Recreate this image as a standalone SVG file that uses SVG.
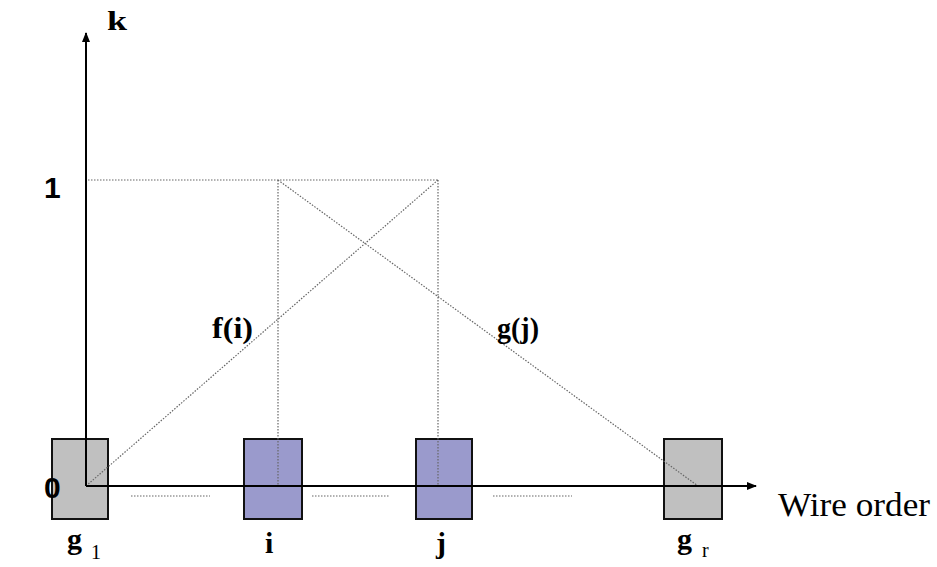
<svg xmlns="http://www.w3.org/2000/svg" width="937" height="567" viewBox="0 0 937 567">
<style>
.box{stroke:#111;stroke-width:2}
.gray{fill:#c0c0c0}
.blue{fill:#9a9acc}
.dot{stroke:#666;stroke-width:1.2;stroke-dasharray:1.5 1.5;fill:none}
.axis{stroke:#000;stroke-width:2;fill:none}
.serif{font-family:"Liberation Serif","Times New Roman",serif;font-weight:bold;fill:#000}
.reg{font-weight:normal}
.sans{font-family:"Liberation Sans",Arial,sans-serif;font-weight:bold;fill:#000}
</style>
<defs>
<marker id="arr" viewBox="0 0 10 10" refX="9" refY="5" markerWidth="10" markerHeight="10" markerUnits="userSpaceOnUse" orient="auto">
<path d="M0,1 L10,5 L0,9 Z" fill="#000"/>
</marker>
</defs>
<g id="node-g1"><rect class="box gray" x="52" y="439" width="56" height="80"/></g>
<g id="node-i"><rect class="box blue" x="244" y="439" width="58" height="80"/></g>
<g id="node-j"><rect class="box blue" x="416" y="439" width="56" height="80"/></g>
<g id="node-gr"><rect class="box gray" x="664" y="439" width="58" height="80"/></g>
<g id="connectors">
<line class="dot" x1="88" y1="180" x2="438" y2="180"/>
<line class="dot" x1="278" y1="180" x2="278" y2="486"/>
<line class="dot" x1="438" y1="180" x2="438" y2="486"/>
<line class="dot" x1="86" y1="486" x2="438" y2="180"/>
<line class="dot" x1="278" y1="180" x2="698" y2="486"/>
<line class="dot" x1="131" y1="496" x2="210" y2="496"/>
<line class="dot" x1="312" y1="496" x2="389" y2="496"/>
<line class="dot" x1="493" y1="496" x2="572" y2="496"/>
<line class="axis" x1="86" y1="486" x2="86" y2="33" marker-end="url(#arr)"/>
<line class="axis" x1="86" y1="486" x2="756" y2="486" marker-end="url(#arr)"/>
</g>
<g id="labels">
<text class="serif" x="107" y="30" font-size="28" textLength="20" lengthAdjust="spacingAndGlyphs">k</text>
<text class="sans" x="44" y="198" font-size="30">1</text>
<text class="sans" x="44" y="498" font-size="30">0</text>
<text class="serif" x="212" y="338" font-size="30" textLength="41" lengthAdjust="spacingAndGlyphs">f(i)</text>
<text class="serif" x="497" y="338" font-size="30" textLength="42" lengthAdjust="spacingAndGlyphs">g(j)</text>
<text class="serif" x="67" y="549" font-size="30">g</text>
<text class="serif reg" x="91" y="559" font-size="20">1</text>
<text class="serif" x="265" y="553" font-size="30">i</text>
<text class="serif" x="436" y="553" font-size="30">j</text>
<text class="serif" x="677" y="549" font-size="30">g</text>
<text class="serif reg" x="702" y="557" font-size="20">r</text>
<text class="serif reg" x="778" y="516" font-size="34" textLength="152" lengthAdjust="spacingAndGlyphs">Wire order</text>
</g>
</svg>
